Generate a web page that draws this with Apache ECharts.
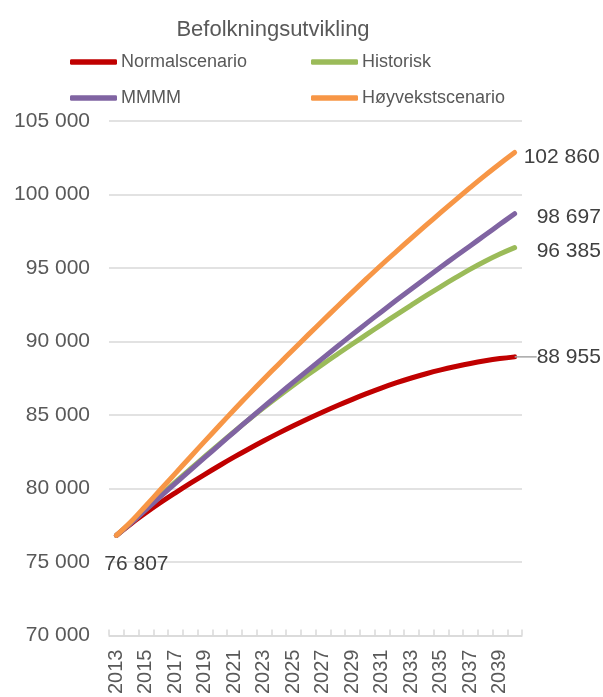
<!DOCTYPE html>
<html>
<head>
<meta charset="utf-8">
<script src="https://cdn.jsdelivr.net/npm/echarts@6/dist/echarts.min.js"></script>
<style>
html,body{margin:0;padding:0;background:#fff;}
#chart{width:603px;height:697px;}
</style>
</head>
<body>
<div id="chart"></div>
<script>
var years = [];
for (var y = 2013; y <= 2040; y++) years.push(String(y));

var seriesNames = ['Normalscenario', 'Historisk', 'MMMM', 'Høyvekstscenario'];

var normalscenario = [76807, 77607, 78347, 79047, 79707, 80347, 80967, 81567, 82147, 82707,
  83247, 83767, 84267, 84747, 85207, 85647, 86067, 86467, 86847, 87197,
  87517, 87807, 88067, 88297, 88507, 88687, 88837, 88955];
var historisk = [76807, 77680, 78600, 79520, 80430, 81310, 82180, 83040, 83880, 84700,
  85500, 86270, 87020, 87750, 88460, 89150, 89830, 90500, 91170, 91830,
  92480, 93120, 93740, 94340, 94920, 95460, 95950, 96385];
var mmmm = [76807, 77657, 78557, 79457, 80347, 81232, 82112, 82987, 83857, 84717,
  85567, 86407, 87237, 88057, 88867, 89677, 90477, 91267, 92047, 92817,
  93577, 94327, 95067, 95797, 96517, 97240, 97970, 98697];
var hoyvekst = [76807, 77750, 78830, 79930, 81030, 82130, 83220, 84300, 85370, 86420,
  87450, 88460, 89460, 90450, 91430, 92400, 93360, 94310, 95240, 96140,
  97030, 97910, 98780, 99640, 100480, 101300, 102090, 102860];

var colors = ['#c00000', '#9bbb59', '#8064a2', '#f79646'];
var FONT = 'Liberation Sans, Arial, sans-serif';

function fmt(v) {
  return String(Math.round(v)).replace(/\B(?=(\d{3})+(?!\d))/g, ' ');
}

function buildData(arr, opts) {
  return arr.map(function (v, i) {
    var item = { value: v };
    if (i === arr.length - 1 && opts.end) {
      item.label = Object.assign({
        show: true, position: 'right', color: '#404040', fontSize: 21, fontFamily: FONT,
        formatter: function (p) { return fmt(p.value); }
      }, opts.end);
    }
    if (i === 0 && opts.start) {
      item.label = Object.assign({
        show: true, color: '#404040', fontSize: 21, fontFamily: FONT,
        formatter: function (p) { return fmt(p.value); }
      }, opts.start);
    }
    return item;
  });
}

var dataSets = [normalscenario, historisk, mmmm, hoyvekst];
var labelOpts = [
  { end: { distance: 9, offset: [0, 1] }, layout: true },
  { end: { distance: 22, offset: [0, 4] } },
  { end: { distance: 22, offset: [0, 4] } },
  { end: { distance: 9, offset: [0, 5] }, start: { position: 'bottom', distance: 18, offset: [20, 0] } }
];

var series = dataSets.map(function (arr, k) {
  var s = {
    name: seriesNames[k],
    type: 'line',
    data: buildData(arr, labelOpts[k]),
    smooth: 0.4,
    showSymbol: true,
    symbol: 'circle',
    symbolSize: 0.1,
    itemStyle: { color: colors[k] },
    lineStyle: { color: colors[k], width: 5, cap: 'round', join: 'round' },
    silent: true,
    z: 2 + k,
    emphasis: { disabled: true }
  };
  if (labelOpts[k].layout) {
    s.labelLine = { show: true, lineStyle: { color: '#a6a6a6', width: 1.5 } };
    s.labelLayout = { dx: 13 };
  }
  return s;
});

var legendPos = [[70, 53], [311, 53], [70, 89], [311, 89]];
var legends = seriesNames.map(function (n, k) {
  return {
    left: legendPos[k][0],
    top: legendPos[k][1],
    padding: 0,
    orient: 'horizontal',
    icon: 'roundRect',
    itemWidth: 47,
    itemHeight: 5.5,
    selectedMode: false,
    data: [{ name: n, itemStyle: { color: colors[k], opacity: 1 } }],
    textStyle: { color: '#595959', fontSize: 18, fontFamily: FONT, padding: [0, 0, 0, -1] }
  };
});

var option = {
  animation: false,
  color: colors,
  title: {
    text: 'Befolkningsutvikling',
    left: 268, top: 14,
    textAlign: 'center',
    textStyle: { color: '#595959', fontSize: 22, fontWeight: 'normal', fontFamily: FONT }
  },
  legend: legends,
  grid: { left: 109, right: 81, top: 121, bottom: 61, containLabel: false },
  xAxis: {
    type: 'category',
    data: years,
    boundaryGap: true,
    axisLine: { show: true, lineStyle: { color: '#d9d9d9', width: 1.5 } },
    axisTick: { show: true, inside: true, length: 6, interval: 0, lineStyle: { color: '#d9d9d9', width: 1.5 } },
    axisLabel: { interval: 1, rotate: 90, color: '#595959', fontSize: 20, fontFamily: FONT, margin: 14 },
    splitLine: { show: false }
  },
  yAxis: {
    type: 'value',
    min: 70000, max: 105000, interval: 5000,
    axisLine: { show: false },
    axisTick: { show: false },
    axisLabel: { color: '#595959', fontSize: 21, fontFamily: FONT, margin: 19, formatter: fmt },
    splitLine: { show: true, lineStyle: { color: '#d9d9d9', width: 1.5 } }
  },
  series: series
};

var chart = echarts.init(document.getElementById('chart'), null, { renderer: 'canvas' });
chart.setOption(option);
</script>
</body>
</html>
